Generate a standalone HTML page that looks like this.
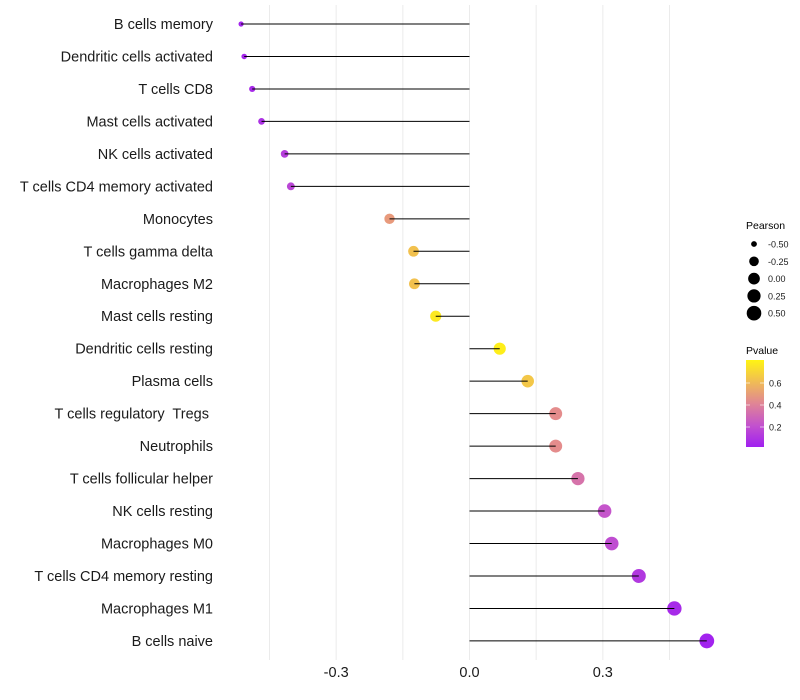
<!DOCTYPE html>
<html><head><meta charset="utf-8"><style>
body{margin:0;background:#fff;font-family:"Liberation Sans",sans-serif}
svg{display:block}
text{white-space:pre}
</style></head><body>
<svg id="chart" width="800" height="700"></svg>
<script>
const categories=["B cells memory","Dendritic cells activated","T cells CD8","Mast cells activated","NK cells activated","T cells CD4 memory activated","Monocytes","T cells gamma delta","Macrophages M2","Mast cells resting","Dendritic cells resting","Plasma cells","T cells regulatory  Tregs ","Neutrophils","T cells follicular helper","NK cells resting","Macrophages M0","T cells CD4 memory resting","Macrophages M1","B cells naive"];
const pearson=[-0.514,-0.507,-0.489,-0.468,-0.416,-0.402,-0.18,-0.126,-0.124,-0.076,0.068,0.131,0.194,0.194,0.244,0.304,0.32,0.381,0.461,0.534];
const pvalue=[0.04,0.05,0.06,0.09,0.14,0.17,0.5,0.64,0.64,0.78,0.8,0.66,0.45,0.45,0.35,0.23,0.2,0.12,0.06,0.03];
const xTicks=[-0.3,0,0.3];
const xTickLabels=["-0.3","0.0","0.3"];
const xGrid=[-0.45,-0.3,-0.15,0,0.15,0.3,0.45];
const sizeLegend=[-0.5,-0.25,0,0.25,0.5];
const sizeLegendLabels=["-0.50","-0.25","0.00","0.25","0.50"];
const pLegend=[0.2,0.4,0.6];

const NS="http://www.w3.org/2000/svg";
const svg=document.getElementById('chart');
function mk(t,a,p){const e=document.createElementNS(NS,t);for(const k in a)e.setAttribute(k,a[k]);(p||svg).appendChild(e);return e;}
const x=v=>469.5+v*444.4;
const y=i=>24+i*32.47;
const r=v=>2.2+5.2*Math.sqrt(Math.max(0,v+0.52)/1.06);
function col(p){
  const stops=[[0.02,[160,32,240]],[0.25,[200,90,200]],[0.45,[228,140,140]],[0.82,[255,244,20]]];
  p=Math.max(0.02,Math.min(0.82,p));
  for(let i=0;i<stops.length-1;i++){const a=stops[i],b=stops[i+1];if(p<=b[0]){const t=(p-a[0])/(b[0]-a[0]);return 'rgb('+a[1].map((c,j)=>Math.round(c+(b[1][j]-c)*t)).join(',')+')';}}
  return 'rgb(255,244,20)';
}
xGrid.forEach(v=>{const g=mk('line',{x1:x(v),x2:x(v),y1:5,y2:660,stroke:'#ebebeb','stroke-width':1});

});
categories.forEach((c,i)=>{
  const d=mk('circle',{cx:x(pearson[i]),cy:y(i),r:r(pearson[i]),fill:col(pvalue[i])});
  
  
  const l=mk('line',{x1:x(0),x2:x(pearson[i]),y1:y(i),y2:y(i),stroke:'#000','stroke-width':1});
  
  
  const t=mk('text',{x:213,y:y(i)+5,'text-anchor':'end','font-size':14.5,fill:'#1a1a1a'});
  t.textContent=c;
  
  
});
xTicks.forEach((v,i)=>{const t=mk('text',{x:x(v),y:677,'text-anchor':'middle','font-size':14.5,fill:'#1a1a1a'});t.textContent=xTickLabels[i];

});
const lt=mk('text',{x:746,y:229,'font-size':10.5,fill:'#000'});lt.textContent='Pearson';


sizeLegend.forEach((v,i)=>{const cy=244+i*17.3;
const c=mk('circle',{cx:754,cy:cy,r:r(v),fill:'#000'});


const t=mk('text',{x:768,y:cy+3.5,'font-size':9,fill:'#1a1a1a'});t.textContent=sizeLegendLabels[i];});
const pt=mk('text',{x:746,y:354,'font-size':10.5,fill:'#000'});pt.textContent='Pvalue';


const defs=mk('defs',{});const lg=mk('linearGradient',{id:'pg',x1:0,y1:1,x2:0,y2:0},defs);
[0,0.25,0.5,0.75,1].forEach(o=>mk('stop',{offset:o,'stop-color':col(0.02+o*0.8)},lg));
const bar=mk('rect',{x:746,y:360,width:18,height:87,fill:'url(#pg)'});


const py=p=>427-(p-0.2)*110;
pLegend.forEach(p=>{mk('line',{x1:746,x2:750,y1:py(p),y2:py(p),stroke:'#fff','stroke-opacity':0.6});mk('line',{x1:760,x2:764,y1:py(p),y2:py(p),stroke:'#fff','stroke-opacity':0.6});
const t=mk('text',{x:769,y:py(p)+3.5,'font-size':9,fill:'#1a1a1a'});t.textContent=p.toFixed(1);});
</script>
</body></html>
